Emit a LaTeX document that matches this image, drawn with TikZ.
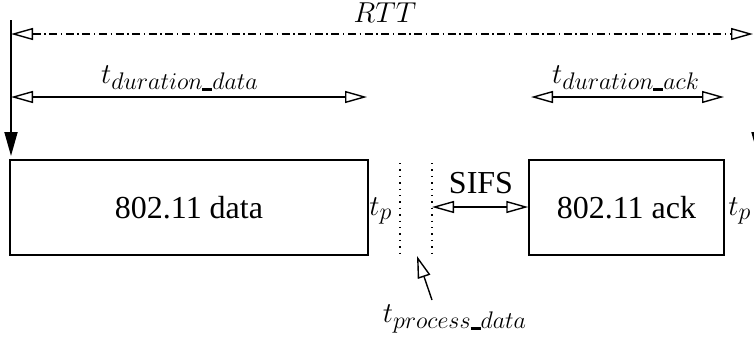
\documentclass[tikz,border=0pt]{standalone}
\usepackage{fontspec}
\setmainfont{Liberation Serif}
\usetikzlibrary{arrows.meta}
\DeclareMathSizes{14.5}{14.5}{11.8}{9}
\newcommand{\usc}{\rule[-0.3pt]{5pt}{1.2pt}}
\tikzset{
  frame/.style={draw, line width=0.75pt, inner sep=0pt, font=\fontsize{16}{19}\selectfont},
  lbl/.style={inner sep=0pt, font=\fontsize{14.5}{17}\selectfont},
  otip/.tip={Triangle[open, length=11pt, width=6pt, line width=0.7pt]},
  dimline/.style={line width=0.7pt, {otip}-{otip}},
  rttline/.style={line width=0.7pt, {otip}-{otip}, dash pattern=on 4pt off 1.8pt on 0.7pt off 1.8pt},
  timeline/.style={line width=0.9pt, -{Triangle[length=12pt, width=6.5pt]}},
  gap/.style={line width=0.7pt, dash pattern=on 0.7pt off 2.5pt},
  pointer/.style={line width=0.7pt, -{Triangle[open, length=11pt, width=6.5pt, line width=0.7pt]}}
}
\begin{document}
\begin{tikzpicture}[x=0.5pt, y=-0.5pt]
\useasboundingbox (0,0) rectangle (754,339);
% time lines
\coordinate (LT) at (11,20);
\coordinate (LB) at (11,156);
\coordinate (RT) at (758,20);
\coordinate (RB) at (758,156);
\draw[timeline] (LT) -- (LB);
\draw[timeline] (RT) -- (RB);
% RTT
\coordinate (rttL) at (11,34);
\coordinate (rttR) at (753,34);
\draw[rttline] (rttL) -- (rttR);
\node[lbl] (rtt) at (385,13) {$RTT$};
% boxes
\node[frame, minimum width=179pt, minimum height=47.5pt] (data) at (189,207.5) {802.11 data};
\node[frame, minimum width=97.5pt, minimum height=47.5pt] (ack) at (626.5,207.5) {802.11 ack};
% durations
\coordinate (ddL) at (11,97);
\coordinate (ddR) at (367,97);
\draw[dimline] (ddL) -- (ddR);
\node[lbl] (tdd) at (180,78) {$t_{duration\usc data}$};
\coordinate (daL) at (531,97);
\coordinate (daR) at (724,97);
\draw[dimline] (daL) -- (daR);
\node[lbl] (tda) at (626,78) {$t_{duration\usc ack}$};
% tp labels
\node[lbl, anchor=west] (tp1) at (369,211) {$t_p$};
\node[lbl, anchor=west] (tp2) at (728,211) {$t_p$};
% processing gap
\coordinate (g1t) at (400,163);
\coordinate (g1b) at (400,258);
\coordinate (g2t) at (432,163);
\coordinate (g2b) at (432,258);
\draw[gap] (g1t) -- (g1b);
\draw[gap] (g2t) -- (g2b);
% SIFS
\coordinate (sifsL) at (432,207);
\draw[dimline] (sifsL) -- (ack.west |- sifsL);
\node[inner sep=0pt, font=\fontsize{16}{19}\selectfont] (sifs) at (481,183) {SIFS};
% processing pointer
\coordinate (ptail) at (432,300);
\coordinate (phead) at (417,256);
\draw[pointer] (ptail) -- (phead);
\node[lbl] (tpd) at (455,319) {$t_{process\usc data}$};
\end{tikzpicture}
\end{document}
